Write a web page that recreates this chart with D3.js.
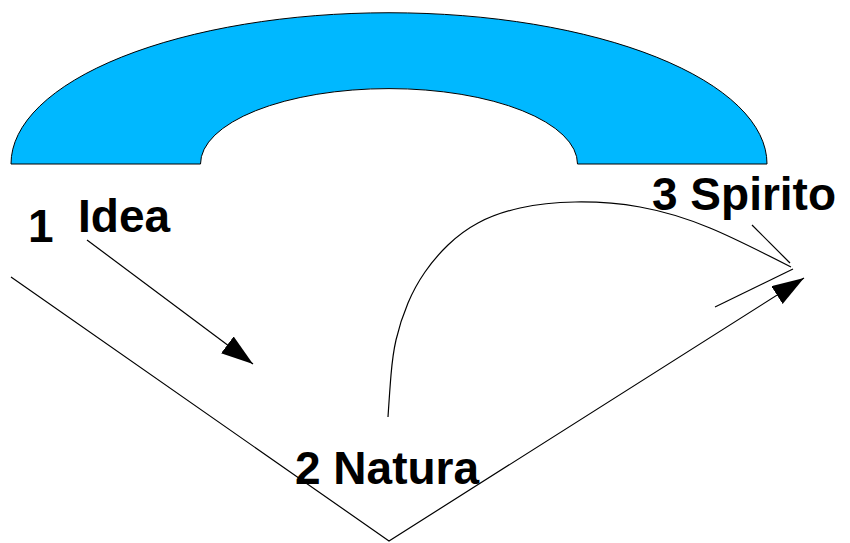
<!DOCTYPE html>
<html>
<head>
<meta charset="utf-8">
<script src="https://cdn.jsdelivr.net/npm/d3@7"></script>
<style>
  html, body { margin: 0; padding: 0; background: #fff; }
  svg { display: block; }
</style>
</head>
<body>
<svg id="diagram" width="850" height="543"></svg>
<script>
// Labels of the three moments (Idea -> Natura -> Spirito)
const labelText = ["1", "Idea", "2 Natura", "3 Spirito"];
const labelAt = [[28, 242], [78, 232], [295, 484], [652, 210]];

// Arch (half ring) on top: centre, inner and outer radius, vertical squash
const archCentre = [389, 164];
const archRadii = [188.5, 378];
const archSquash = 0.4;

// Lines, in picture units
const vLine = [[11, 277], [389, 541], [804, 278]];
const ideaArrow = [[87, 240], [253, 364]];
const tickA = [[715, 307], [793, 269]];
const tickB = [[752, 225], [790, 263]];
const spiritCurve = [
  [388, 417], [391, 375], [396, 340], [408, 303], [425, 272], [448, 245],
  [478, 223], [520, 208], [575, 202], [640, 207], [710, 228], [791, 267]
];

let svg = d3.select("#diagram");
let bounds = svg.node().getBoundingClientRect();

// picture units -> pixels
let x = d3.scaleLinear().domain([0, 850]).range([0, bounds.width]);
let y = d3.scaleLinear().domain([0, 543]).range([0, bounds.height]);

// filled arrow head
svg.append("defs").append("marker")
  .attr("id", "head")
  .attr("markerUnits", "userSpaceOnUse")
  .attr("markerWidth", 33)
  .attr("markerHeight", 22)
  .attr("refX", 32)
  .attr("refY", 10.5)
  .attr("orient", "auto")
  .append("path")
    .attr("d", "M0,0 L32,10.5 L0,21 Z")
    .attr("fill", "#000");

// the arch: a d3.arc squashed vertically
let arc = d3.arc()
  .innerRadius(archRadii[0])
  .outerRadius(archRadii[1])
  .startAngle(-Math.PI / 2)
  .endAngle(Math.PI / 2);

svg.append("path")
  .attr("d", arc())
  .attr("transform", `translate(${x(archCentre[0])},${y(archCentre[1])}) scale(1,${archSquash})`)
  .attr("fill", "#00b8ff")
  .attr("stroke", "#000")
  .attr("stroke-width", 1)
  .attr("vector-effect", "non-scaling-stroke");

let straight = d3.line().x(d => x(d[0])).y(d => y(d[1]));
let smooth = d3.line().x(d => x(d[0])).y(d => y(d[1])).curve(d3.curveNatural);

let lines = svg.append("g")
  .attr("fill", "none")
  .attr("stroke", "#000")
  .attr("stroke-width", 1.2);

lines.append("path").attr("d", straight(vLine)).attr("marker-end", "url(#head)");
lines.append("path").attr("d", straight(ideaArrow)).attr("marker-end", "url(#head)");
lines.append("path").attr("d", straight(tickA));
lines.append("path").attr("d", straight(tickB));
lines.append("path").attr("d", smooth(spiritCurve));

svg.append("g").selectAll("text")
  .data(labelText)
  .enter().append("text")
    .attr("x", (d, i) => x(labelAt[i][0]))
    .attr("y", (d, i) => y(labelAt[i][1]))
    .attr("font-family", "'Liberation Sans', Arial, sans-serif")
    .attr("font-weight", "bold")
    .attr("font-size", 46)
    .attr("fill", "#000")
    .text(d => d);
</script>
</body>
</html>
